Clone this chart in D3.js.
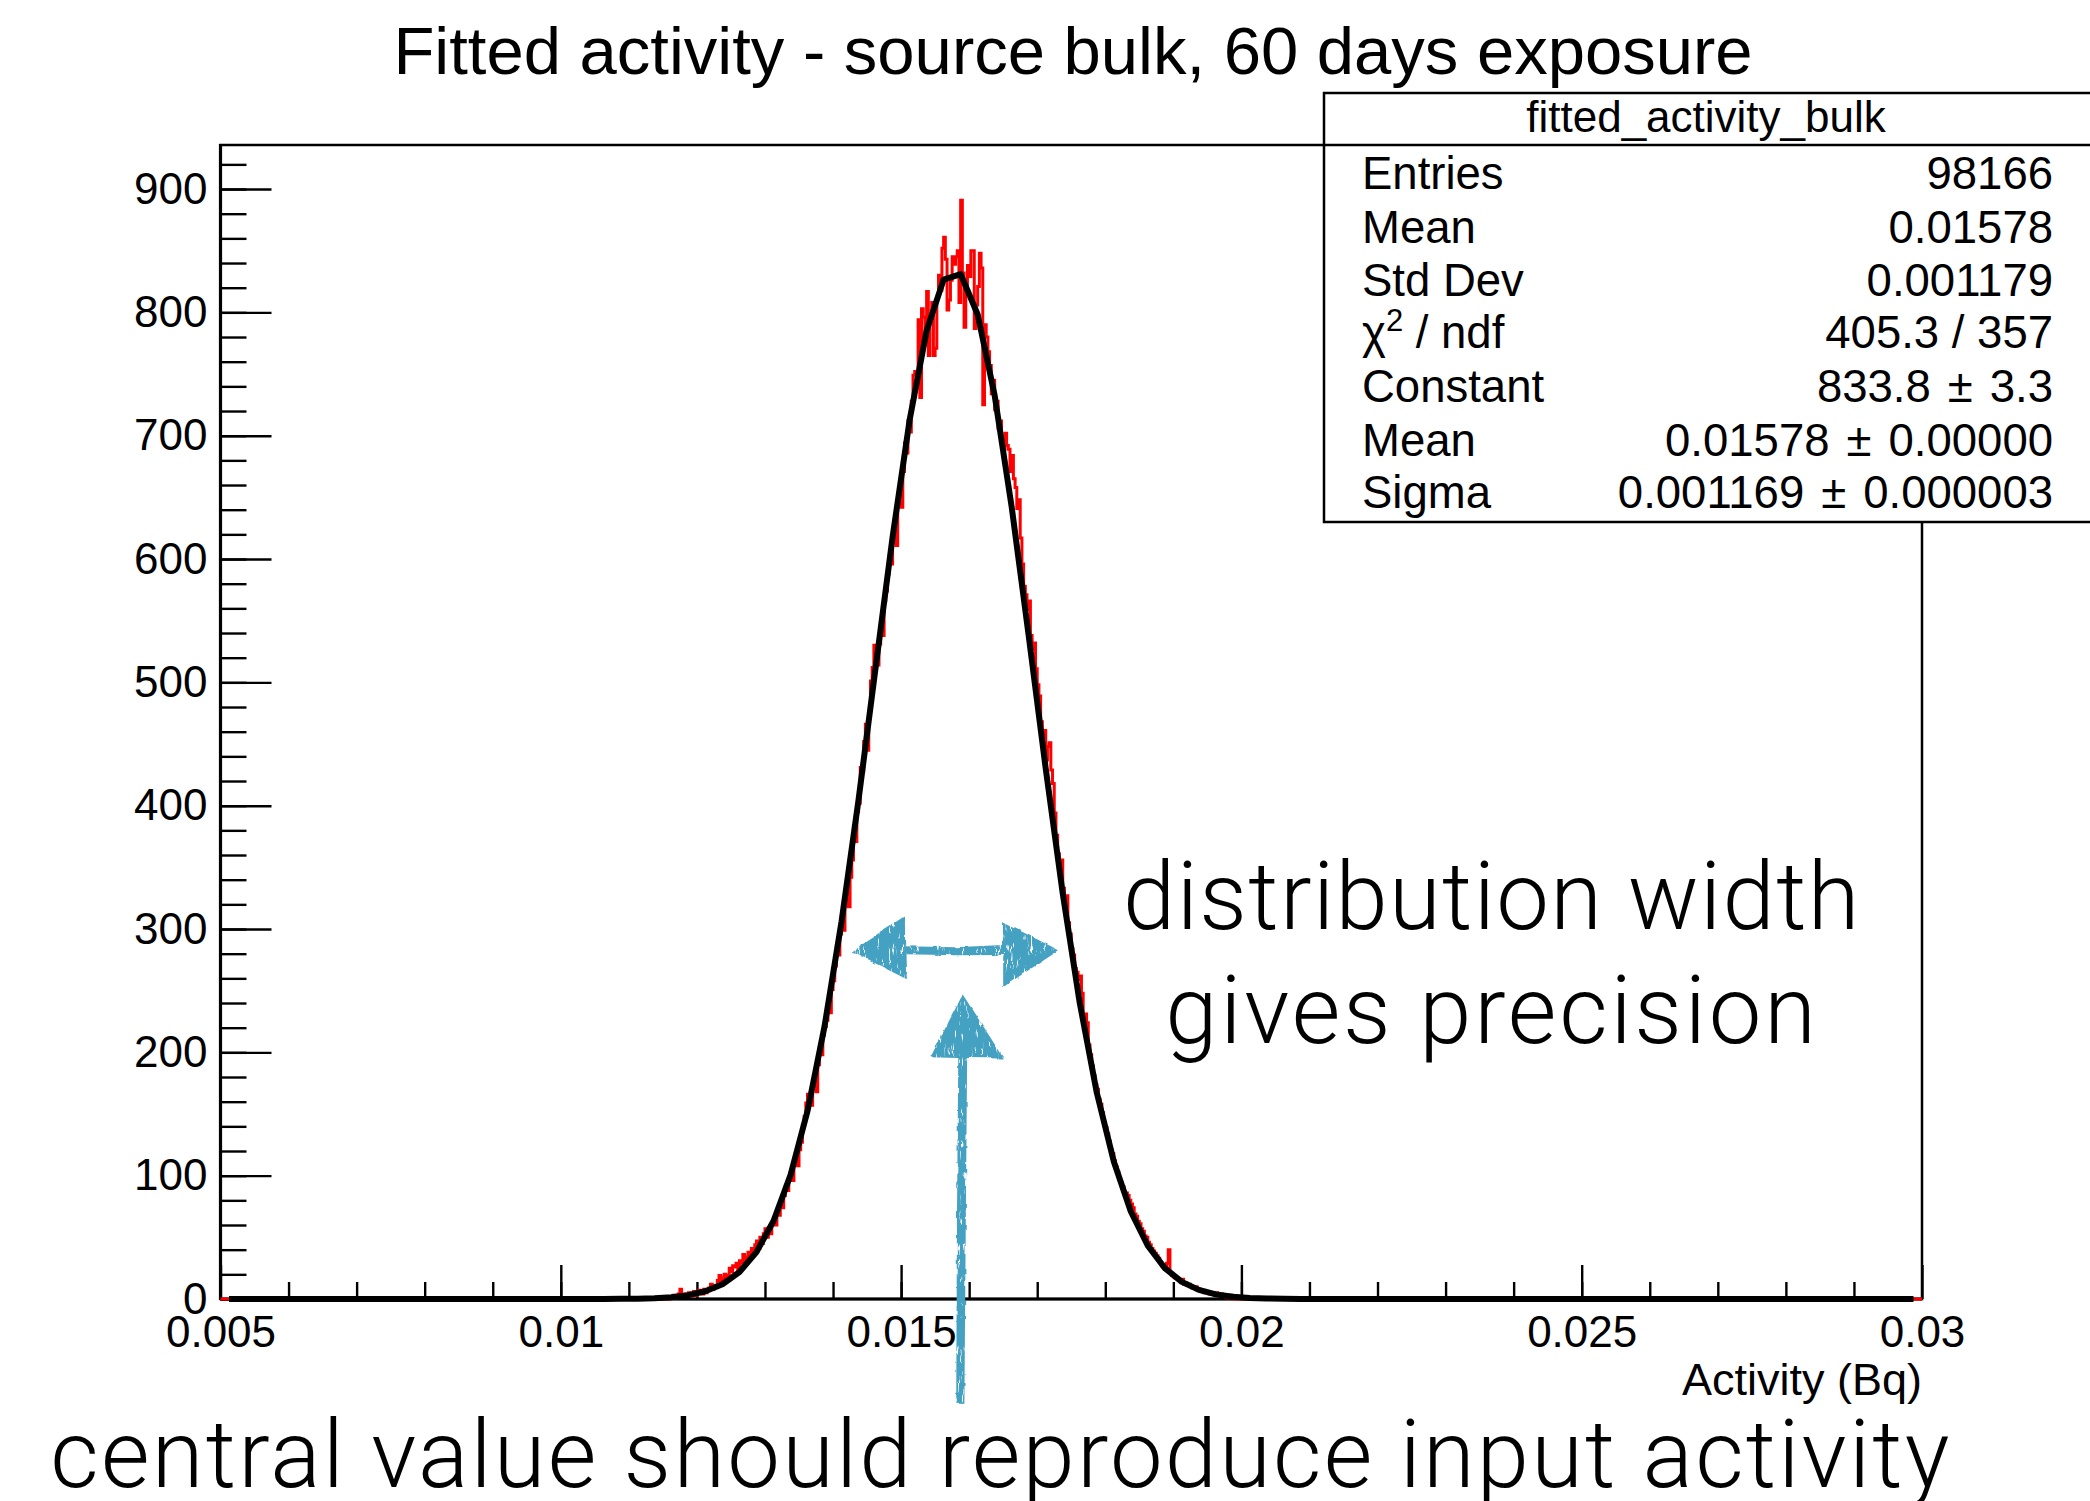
<!DOCTYPE html>
<html>
<head>
<meta charset="utf-8">
<script src="https://cdn.jsdelivr.net/npm/d3@7"></script>
<style>
  body { margin: 0; background: #ffffff; }
  svg { display: block; }
</style>
</head>
<body>
<svg id="chart" width="2090" height="1501"></svg>
<script>
// ---- histogram: 1000 bins of width 0.000025 between 0.005 and 0.03 ----
const histLow = 0.005;
const histHigh = 0.03;
const binWidth = 0.000025;
const firstFilledBin = 252;          // bin whose lower edge is 0.0113
const binCounts = [
  0,0,0,0,0,0,1,0,1,2,
  1,0,2,1,3,1,2,4,8,3,
  2,4,3,5,2,4,6,3,5,7,
  6,4,8,5,7,9,12,8,11,10,
  15,19,14,17,20,16,19,25,22,27,
  26,29,23,31,29,36,30,34,38,33,
  41,36,44,47,41,50,45,53,57,50,
  58,53,62,66,60,71,68,77,74,84,
  92,88,97,103,96,110,114,108,121,127,
  141,148,159,166,160,157,171,176,168,190,
  205,198,214,221,226,238,232,251,258,270,
  287,279,296,304,299,322,331,318,342,356,
  384,371,395,402,431,428,452,466,445,472,
  501,512,530,526,514,531,545,538,566,574,
  588,601,596,618,627,611,648,655,642,671,
  694,686,712,703,728,749,752,746,794,731,
  803,796,781,817,765,792,808,765,771,812,
  830,818,852,861,843,802,810,826,845,839,
  845,850,808,891,832,788,815,838,829,850,
  850,787,806,821,848,836,725,790,780,768,
  757,734,745,721,728,706,712,697,689,702,
  692,689,671,684,665,658,641,648,617,596,
  578,571,559,566,538,527,532,511,498,489,
  468,452,461,437,448,451,429,418,394,376,
  361,349,356,333,318,327,305,296,284,279,
  268,265,259,262,248,229,231,224,206,198,
  189,181,174,170,162,158,151,143,139,134,
  128,121,118,112,107,103,97,94,91,86,
  86,84,80,77,74,69,67,63,61,57,
  55,51,50,46,44,41,39,37,35,33,
  30,27,26,24,29,40,21,19,18,17,
  17,15,14,16,12,13,11,12,10,9,
  9,10,7,8,6,7,5,6,5,4,
  5,4,3,5,3,2,4,2,3,1,
  2,1,3,1,0,2,1,0,1,0,
  1,0,0,1,0,0,0,0,0,0
];

// ---- gaussian fit result ----
const fitConstant = 833.8;
const fitMean = 0.01578;
const fitSigma = 0.001169;
const fitSamples = 100;

// ---- axes ----
const yMax = 935.7;
const xMajorTicks = [0.005, 0.01, 0.015, 0.02, 0.025, 0.03];
const xTickLabels = ["0.005", "0.01", "0.015", "0.02", "0.025", "0.03"];
const xMinorTicks = d3.range(6, 30).map(v => v / 1000);
const yMajorTicks = [0, 100, 200, 300, 400, 500, 600, 700, 800, 900];
const yMinorTicks = d3.range(0, 921, 20);

// ---- statistics box ----
const statsName = "fitted_activity_bulk";
const statsLabels = ["Entries", "Mean", "Std Dev", "χ2 / ndf", "Constant", "Mean", "Sigma"];
const statsValues = ["98166", "0.01578", "0.001179", "405.3 / 357", "833.8 ± 3.3",
                     "0.01578 ± 0.00000", "0.001169 ± 0.000003"];

const titleText = "Fitted activity - source bulk, 60 days exposure";
const xTitle = "Activity (Bq)";
const noteWidth = ["distribution width", "gives precision"];
const noteCentre = "central value should reproduce input activity";

// ---------------------------------------------------------------
const svg = d3.select("#chart");
const font = "'Liberation Sans', Arial, Helvetica, sans-serif";
const noteFont = "Roboto, 'Open Sans', sans-serif";
const frame = { left: 220.5, right: 1922, top: 145, bottom: 1299 };

const x = d3.scaleLinear().domain([histLow, histHigh]).range([frame.left, frame.right]);
const y = d3.scaleLinear().domain([0, yMax]).range([frame.bottom, frame.top]);

// sketchy texture for the hand drawn arrows
const defs = svg.append("defs");
const chalk = defs.append("filter").attr("id", "chalk")
  .attr("x", "-10%").attr("y", "-10%").attr("width", "120%").attr("height", "120%");
chalk.append("feTurbulence").attr("type", "fractalNoise")
  .attr("baseFrequency", "0.45 0.07").attr("numOctaves", 2).attr("seed", 7).attr("result", "n");
chalk.append("feColorMatrix").attr("in", "n").attr("type", "matrix")
  .attr("values", "0 0 0 0 0  0 0 0 0 0  0 0 0 0 0  -9 0 0 0 6.7").attr("result", "m");
chalk.append("feComposite").attr("in", "SourceGraphic").attr("in2", "m")
  .attr("operator", "in").attr("result", "t");
chalk.append("feTurbulence").attr("type", "fractalNoise")
  .attr("baseFrequency", "0.09").attr("numOctaves", 2).attr("seed", 3).attr("result", "n2");
chalk.append("feDisplacementMap").attr("in", "t").attr("in2", "n2")
  .attr("scale", 4).attr("xChannelSelector", "R").attr("yChannelSelector", "G");

// title
svg.append("text")
  .attr("x", 1073).attr("y", 74)
  .attr("text-anchor", "middle")
  .style("font-family", font).style("font-size", "67px")
  .text(titleText);

// frame
svg.append("rect")
  .attr("x", frame.left).attr("y", frame.top)
  .attr("width", frame.right - frame.left).attr("height", frame.bottom - frame.top)
  .attr("fill", "none").attr("stroke", "#000").attr("stroke-width", 2.5);
svg.append("line")
  .attr("x1", frame.left).attr("x2", frame.left)
  .attr("y1", frame.top - 1).attr("y2", frame.bottom + 1)
  .attr("stroke", "#000").attr("stroke-width", 3.2);

// y axis: major ticks with labels, minor ticks
svg.append("g").attr("transform", `translate(${frame.left},0)`)
  .call(d3.axisLeft(y).tickValues(yMajorTicks).tickSize(-51).tickPadding(13).tickFormat(d3.format("d")));
svg.append("g").attr("transform", `translate(${frame.left},0)`)
  .call(d3.axisRight(y).tickValues(yMinorTicks).tickSize(26).tickFormat(""));

// x axis
svg.append("g").attr("transform", `translate(0,${frame.bottom})`)
  .call(d3.axisBottom(x).tickValues(xMajorTicks).tickSize(-34).tickPadding(17)
        .tickFormat((d, i) => xTickLabels[i]));
svg.append("g").attr("transform", `translate(0,${frame.bottom})`)
  .call(d3.axisTop(x).tickValues(xMinorTicks).tickSize(17).tickFormat(""));

svg.selectAll(".domain").remove();
svg.selectAll(".tick line").attr("stroke", "#000").attr("stroke-width", 2.4);
svg.selectAll(".tick text")
  .attr("fill", "#000")
  .style("font-family", font).style("font-size", "44px");

svg.append("line")
  .attr("x1", frame.left).attr("x2", frame.right)
  .attr("y1", frame.bottom).attr("y2", frame.bottom)
  .attr("stroke", "#000").attr("stroke-width", 3);

svg.append("text")
  .attr("x", frame.right).attr("y", 1395)
  .attr("text-anchor", "end")
  .style("font-family", font).style("font-size", "45px")
  .text(xTitle);

// histogram drawn as a step outline
const nBins = Math.round((histHigh - histLow) / binWidth);
const contents = d3.range(nBins).map(i => {
  const j = i - firstFilledBin;
  return (j >= 0 && j < binCounts.length) ? binCounts[j] : 0;
});
const stepPts = [];
contents.forEach((c, i) => {
  stepPts.push([histLow + i * binWidth, c]);
  stepPts.push([histLow + (i + 1) * binWidth, c]);
});
svg.append("path")
  .datum(stepPts)
  .attr("d", d3.line().x(d => x(d[0])).y(d => y(d[1])))
  .attr("fill", "none").attr("stroke", "#ff0000").attr("stroke-width", 3)
  .attr("stroke-linejoin", "miter");

// fitted gaussian, sampled at the centres of 100 equal steps
const step = (histHigh - histLow) / fitSamples;
const fitPts = d3.range(fitSamples).map(i => {
  const xv = histLow + (i + 0.5) * step;
  const z = (xv - fitMean) / fitSigma;
  return [xv, fitConstant * Math.exp(-0.5 * z * z)];
});
svg.append("path")
  .datum(fitPts)
  .attr("d", d3.line().x(d => x(d[0])).y(d => y(d[1])))
  .attr("fill", "none").attr("stroke", "#000").attr("stroke-width", 6)
  .attr("stroke-linejoin", "round");

// statistics box
const box = { left: 1324, top: 93, bottom: 522, right: 2100, header: 145 };
const statFont = "45.5px";
svg.append("rect")
  .attr("x", box.left).attr("y", box.top)
  .attr("width", box.right - box.left).attr("height", box.bottom - box.top)
  .attr("fill", "#fff").attr("stroke", "#000").attr("stroke-width", 2.5);
svg.append("line")
  .attr("x1", box.left).attr("x2", box.right)
  .attr("y1", box.header).attr("y2", box.header)
  .attr("stroke", "#000").attr("stroke-width", 2.5);
svg.append("text")
  .attr("x", 1706).attr("y", 132)
  .attr("text-anchor", "middle")
  .style("font-family", font).style("font-size", "44px")
  .text(statsName);

const rowBase = [189, 243, 296, 348, 402, 456, 508];
statsLabels.forEach((lab, i) => {
  const t = svg.append("text")
    .attr("x", 1362).attr("y", rowBase[i])
    .style("font-family", font).style("font-size", statFont);
  if (lab.startsWith("χ2")) {
    t.append("tspan").text("χ");
    t.append("tspan").attr("dy", -17).style("font-size", "31px").text("2");
    t.append("tspan").attr("dy", 17).text(" / ndf");
  } else {
    t.text(lab);
  }
  const v = svg.append("text")
    .attr("x", 2053).attr("y", rowBase[i])
    .attr("text-anchor", "end")
    .style("font-family", font).style("font-size", statFont);
  const parts = statsValues[i].split(" ± ");
  if (parts.length === 2) {
    v.append("tspan").text(parts[0]);
    v.append("tspan").attr("dx", 17).text("±");
    v.append("tspan").attr("dx", 17).text(parts[1]);
  } else {
    v.text(statsValues[i]);
  }
});

// hand drawn arrows (positions given in data coordinates)
const arrowColour = "#45a1c2";
const arrows = svg.append("g").attr("filter", "url(#chalk)").attr("fill", arrowColour);
const poly = d3.line().x(d => x(d[0])).y(d => y(d[1])).curve(d3.curveLinearClosed);

// width arrow: double headed, horizontal
const wy = 282;
arrows.append("path").attr("d", poly([
  [0.01427, wy], [0.015055, wy + 28.5], [0.01506, wy + 4], [0.01580, wy + 3.2],
  [0.016497, wy + 5], [0.016497, wy + 23.5], [0.01732, wy + 0.8],
  [0.01650, wy - 29], [0.01650, wy - 3], [0.01580, wy - 3.2],
  [0.01508, wy - 2.5], [0.01509, wy - 23]
]));

// centre arrow: points up from below the axis
arrows.append("path").attr("d", poly([
  [0.015905, 247], [0.01651, 195], [0.01597, 195.5],
  [0.01595, 60], [0.01593, -85], [0.01581, -85],
  [0.01582, 60], [0.01584, 195.5], [0.01543, 196]
]));

// annotation text
const notes = svg.append("g")
  .style("font-family", noteFont).style("font-weight", 300).attr("fill", "#000");
notes.append("text").attr("x", 1492).attr("y", 929).attr("text-anchor", "middle")
  .style("font-size", "94px").style("letter-spacing", "1.4px").text(noteWidth[0]);
notes.append("text").attr("x", 1492).attr("y", 1043).attr("text-anchor", "middle")
  .style("font-size", "94px").style("letter-spacing", "2.8px").text(noteWidth[1]);
notes.append("text").attr("x", 1001).attr("y", 1487).attr("text-anchor", "middle")
  .style("font-size", "94px").style("letter-spacing", "2.2px").text(noteCentre);
</script>
</body>
</html>
